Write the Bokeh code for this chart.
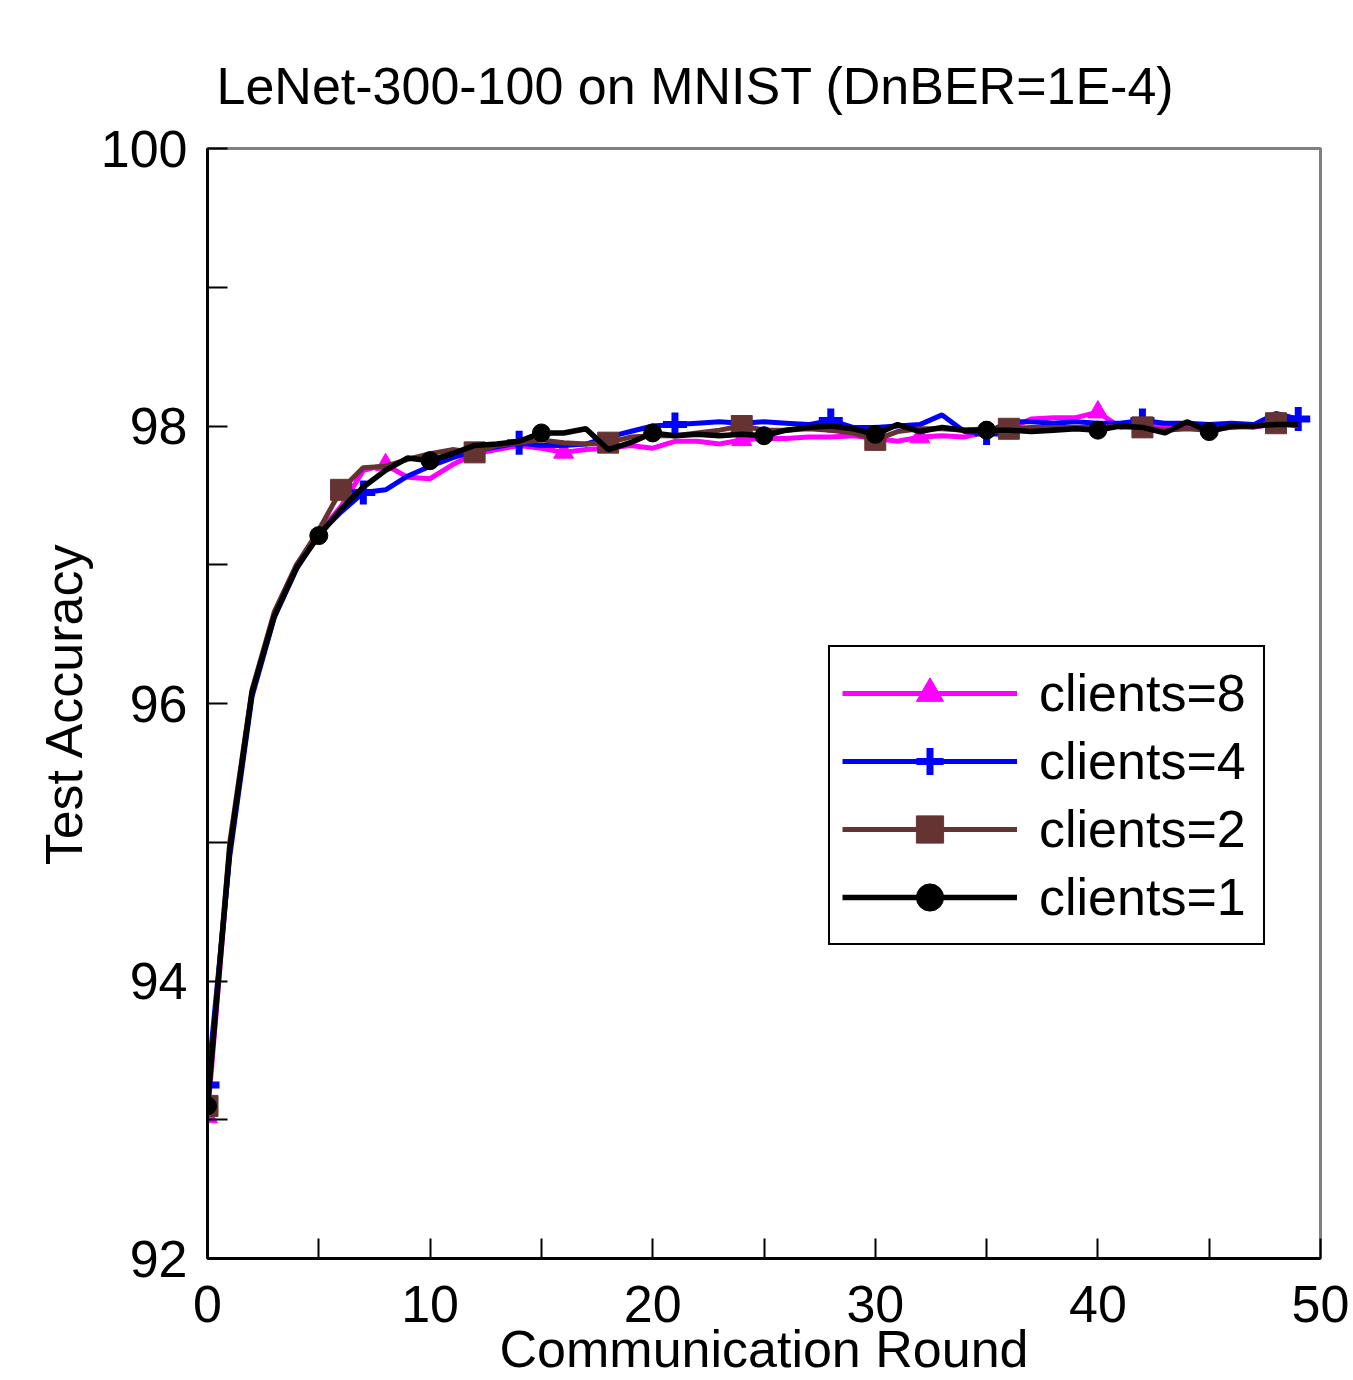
import numpy as np
from bokeh.plotting import figure
from bokeh.models import Legend, LegendItem, FixedTicker, Range1d
from bokeh.embed import file_html
from bokeh.resources import INLINE

rounds = list(range(50))

acc_clients8 = [93.02, 94.95, 96.08, 96.65, 97.00, 97.23, 97.42, 97.68, 97.72, 97.63,
                97.62, 97.72, 97.80, 97.83, 97.86, 97.84, 97.81, 97.83, 97.84, 97.86,
                97.84, 97.89, 97.89, 97.87, 97.90, 97.91, 97.91, 97.92, 97.92, 97.93,
                97.91, 97.89, 97.92, 97.93, 97.92, 97.96, 97.98, 98.05, 98.06, 98.06,
                98.10, 97.99, 98.00, 98.00, 98.01, 98.00, 98.00, 97.99, 98.02, 98.03]

acc_clients4 = [93.25, 94.90, 96.05, 96.62, 96.97, 97.22, 97.38, 97.52, 97.54, 97.64,
                97.71, 97.77, 97.82, 97.85, 97.88, 97.86, 97.86, 97.87, 97.92, 97.96,
                98.00, 98.01, 98.02, 98.03, 98.02, 98.03, 98.02, 98.01, 98.04, 97.99,
                97.99, 98.00, 98.01, 98.08, 97.96, 97.95, 98.03, 98.03, 98.02, 98.03,
                98.02, 98.02, 98.04, 98.02, 98.02, 98.01, 98.02, 98.01, 98.09, 98.05]

acc_clients2 = [93.10, 95.00, 96.10, 96.66, 97.00, 97.25, 97.54, 97.70, 97.71, 97.76,
                97.80, 97.83, 97.81, 97.86, 97.88, 97.90, 97.88, 97.87, 97.88, 97.92,
                97.93, 97.93, 97.95, 97.97, 98.00, 97.97, 97.97, 97.98, 97.97, 97.95,
                97.90, 97.96, 97.98, 97.98, 97.97, 97.98, 97.98, 97.99, 97.99, 97.99,
                97.99, 98.00, 97.99, 97.97, 97.98, 97.97, 97.99, 98.00, 98.02, 98.00]

acc_clients1 = [93.10, 94.95, 96.08, 96.63, 96.98, 97.21, 97.40, 97.56, 97.68, 97.77,
                97.75, 97.80, 97.86, 97.87, 97.89, 97.95, 97.95, 97.98, 97.83, 97.88,
                97.95, 97.93, 97.94, 97.93, 97.94, 97.93, 97.97, 97.99, 98.00, 97.98,
                97.94, 98.01, 97.96, 97.99, 97.97, 97.97, 97.97, 97.96, 97.97, 97.98,
                97.97, 98.00, 97.99, 97.95, 98.03, 97.96, 98.00, 98.00, 98.01, 98.01]

series_labels = ["clients=8", "clients=4", "clients=2", "clients=1"]
x_ticks = [0, 10, 20, 30, 40, 50]
x_minor = [5, 15, 25, 35, 45]
y_ticks = [92, 94, 96, 98, 100]
y_minor = [93, 95, 97, 99]

FONT = "Liberation Sans"
FS = "52px"

p = figure(width=1353, height=1380, output_backend="svg", toolbar_location=None,
           x_range=Range1d(0, 50), y_range=Range1d(92, 100),
           min_border_left=207, min_border_right=33, min_border_top=148,
           min_border_bottom=122,
           title="LeNet-300-100 on MNIST (DnBER=1E-4)")

p.title.text_font = FONT
p.title.text_font_size = FS
p.title.text_font_style = "normal"
p.title.text_color = "black"
p.title.align = "left"
p.title.offset = 9
p.title.standoff = 67

p.background_fill_color = "white"
p.border_fill_color = "white"
p.outline_line_color = "#808080"
p.outline_line_width = 3
p.grid.visible = False

for ax in (p.xaxis[0], p.yaxis[0]):
    ax.axis_line_color = "black"
    ax.axis_line_width = 3
    ax.major_tick_in = 20
    ax.major_tick_out = 0
    ax.minor_tick_in = 20
    ax.minor_tick_out = 0
    ax.major_tick_line_width = 2
    ax.minor_tick_line_width = 2
    ax.major_tick_line_color = "black"
    ax.minor_tick_line_color = "black"
    ax.major_label_text_font = FONT
    ax.major_label_text_font_size = FS
    ax.major_label_text_color = "black"
    ax.axis_label_text_font = FONT
    ax.axis_label_text_font_size = FS
    ax.axis_label_text_font_style = "normal"
    ax.axis_label_text_color = "black"

p.xaxis.ticker = FixedTicker(ticks=x_ticks, minor_ticks=x_minor)
p.yaxis.ticker = FixedTicker(ticks=y_ticks, minor_ticks=y_minor)
p.xaxis.major_label_standoff = 27
p.yaxis.major_label_standoff = 20

p.yaxis.axis_label = "Test Accuracy"
p.yaxis.axis_label_standoff = 5
p.xaxis.axis_label = "Communication Round"
p.xaxis.axis_label_standoff = -5

specs = [
    (acc_clients8, "#FF00FF", "triangle", 8, 20, 5),
    (acc_clients4, "#0000FF", "cross", 7, 24, 5),
    (acc_clients2, "#663333", "square", 6, 21, 5),
    (acc_clients1, "#000000", "circle", 5, 18, 5.5),
]

items = []
for (vals, color, marker, step, msize, lw), lab in zip(specs, series_labels):
    lr = p.line(rounds, vals, line_color=color, line_width=lw)
    mx = rounds[::step]
    my = vals[::step]
    if marker == "cross":
        mr = p.scatter(mx, my, marker=marker, size=msize, line_color=color,
                       line_width=7)
    else:
        mr = p.scatter(mx, my, marker=marker, size=msize, fill_color=color,
                       line_color=color, line_width=1)
    items.append(LegendItem(label=lab, renderers=[lr, mr]))

legend = Legend(items=items, location=(621, 313))
legend.label_text_font = FONT
legend.label_text_font_size = FS
legend.label_text_color = "black"
legend.glyph_width = 175
legend.glyph_height = 68
legend.spacing = 0
legend.padding = 12
legend.margin = 0
legend.label_standoff = 22
legend.label_width = 212
legend.border_line_color = "black"
legend.border_line_alpha = 1.0
legend.border_line_width = 2.5
legend.background_fill_color = "white"
legend.background_fill_alpha = 1.0
p.add_layout(legend, "center")

open("out.html", "w").write(file_html(p, INLINE))
